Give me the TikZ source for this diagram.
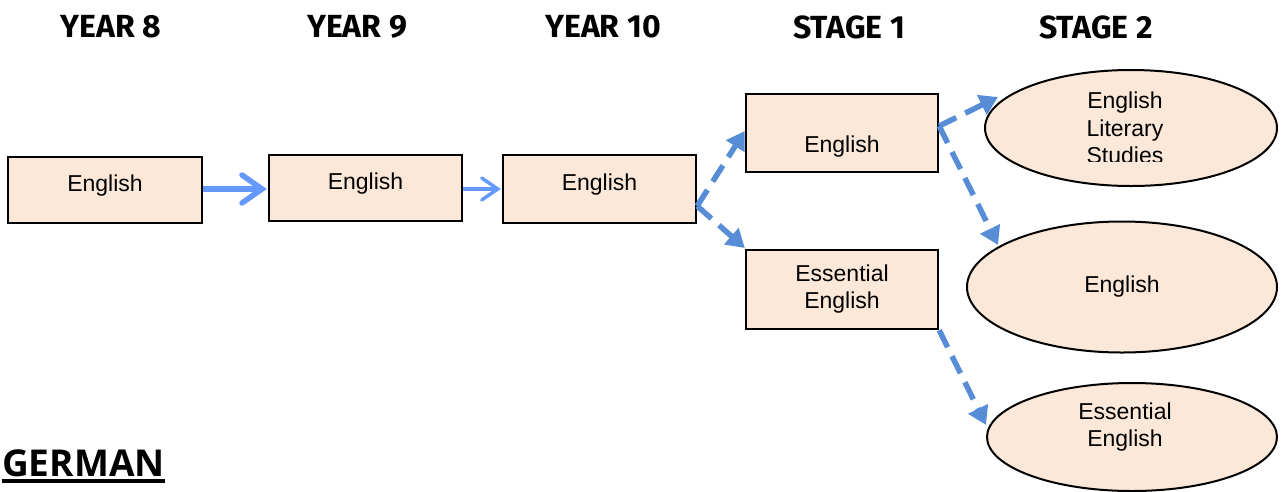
\documentclass[tikz,border=0pt]{standalone}
\usepackage{fontspec}
\setmainfont{Liberation Sans}
\newfontfamily\headfont{Fira Sans}
\newfontfamily\germanfont{Open Sans}
\usetikzlibrary{arrows.meta,shapes.geometric}
\definecolor{peach}{RGB}{252,232,216}
\definecolor{solidblue}{RGB}{102,153,255}
\definecolor{dashblue}{RGB}{86,141,214}
\tikzset{
  box/.style={draw=black,line width=2.4pt,fill=peach,rectangle,inner sep=0pt,font=\fontsize{23}{27}\selectfont,align=center},
  oval/.style={draw=black,line width=2pt,fill=peach,ellipse,inner sep=0pt,font=\fontsize{23}{27.5}\selectfont,align=center},
  head/.style={font=\headfont\bfseries\fontsize{32}{36}\selectfont},
  txt/.style={font=\fontsize{23}{27.5}\selectfont,align=center,inner sep=0pt},
  solidarrow/.style={solidblue,line width=#1},
  dasharrow/.style={dashblue,line width=5.5pt,dash pattern=on 19pt off 10pt,-{Triangle[length=18pt,width=21pt]}},
}
\begin{document}
\begin{tikzpicture}[x=1pt,y=-1pt]
\useasboundingbox (0,0) rectangle (1285,491);
% headers
\node[head] (h8) at (111,27) {YEAR 8};
\node[head] (h9) at (357,27) {YEAR 9};
\node[head] (h10) at (603,27) {YEAR 10};
\node[head] (hs1) at (849,27) {STAGE 1};
\node[head] (hs2) at (1096,27) {STAGE 2};
\node[font=\germanfont\bfseries\fontsize{37}{40}\selectfont,anchor=west,inner sep=0pt] (german) at (2,463) {GERMAN};
\draw[line width=4pt] ([yshift=-4pt]german.south west) -- ([yshift=-4pt]german.south east);
% boxes
\node[box,minimum width=194pt,minimum height=66pt,text depth=14pt] (y8) at (105,190) {English};
\node[box,minimum width=193pt,minimum height=66pt,text depth=14pt] (y9) at (365.5,188) {English};
\node[box,minimum width=193pt,minimum height=68pt,text depth=14pt] (y10) at (599.5,189) {English};
\node[box,minimum width=192pt,minimum height=78pt] (s1e) at (842,133) {};
\node[txt] (s1et) at (842,147) {English};
\node[box,minimum width=192pt,minimum height=79pt] (s1ee) at (842,289.5) {Essential\\English};
% ellipses
\node[oval,minimum width=292pt,minimum height=116pt] (els) at (1131,128) {};
\begin{scope}
\clip (980,60) rectangle (1285,161);
\node[txt] (elst) at (1125,128) {English\\Literary\\Studies};
\end{scope}
\node[oval,minimum width=310pt,minimum height=131pt] (s2e) at (1122,287) {English};
\node[oval,minimum width=290pt,minimum height=108pt] (s2ee) at (1132,437) {};
\node[txt] (s2eet) at (1125,427) {Essential\\English};
% connector end points
\coordinate (y10o) at ([yshift=-17pt]y10.east);
\coordinate (s1eo) at ([yshift=7pt]s1e.east);
\coordinate (s1eeo) at (s1ee.south east);
% arrows
\draw[solidarrow=5.5pt,-{Straight Barb[length=20pt,width=28pt,line cap=round]}] (y8.east |- 0,189) -- ([xshift=-1pt]y9.west |- 0,189);
\draw[solidarrow=3.5pt,-{Straight Barb[length=16pt,width=22pt,line cap=round]}] (y9.east |- 0,189) -- ([xshift=-1pt]y10.west |- 0,189);
\draw[dasharrow] (y10o) -- ([yshift=2pt]s1e.west);
\draw[dasharrow] (y10o) -- (s1e.west |- 0,248);
\draw[dasharrow] (s1eo) -- (998,97);
\draw[dasharrow] (s1eo) -- (998,245);
\draw[dasharrow] (s1eeo) -- (s2ee.west |- 0,425);
\end{tikzpicture}
\end{document}
